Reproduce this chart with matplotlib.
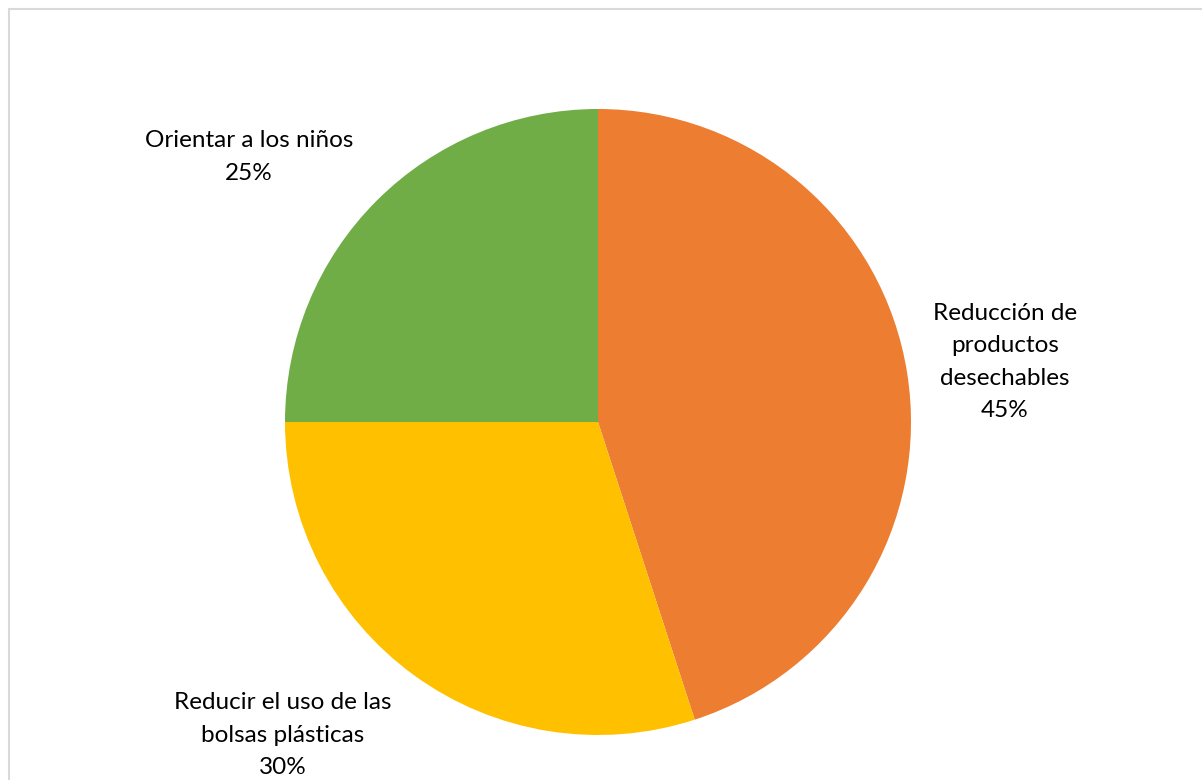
import matplotlib
matplotlib.use("Agg")
import matplotlib.pyplot as plt
from matplotlib.patches import Rectangle

categories = ["Reducción de\nproductos\ndesechables",
              "Reducir el uso de las\nbolsas plásticas",
              "Orientar a los niños"]
values = [45, 30, 25]
colors = ["#ED7D31", "#FFC000", "#70AD47"]

plt.rcParams["font.family"] = ["Lato", "DejaVu Sans"]

W, H = 1202, 780
fig = plt.figure(figsize=(W / 100, H / 100), dpi=100)

# chart area frame (runs off the right and bottom edge)
fig.patches.append(Rectangle((9 / W, -0.05), 1.1, 1 - 9 / H + 0.05,
                             transform=fig.transFigure, fill=False,
                             edgecolor="#d9d9d9", linewidth=1.5))

cx, cy, r = 598, 422, 313
ax = fig.add_axes([(cx - r) / W, (H - cy - r) / H, 2 * r / W, 2 * r / H])
ax.pie(values, colors=colors, startangle=90, counterclock=False,
       wedgeprops=dict(linewidth=0))
ax.set_xlim(-1, 1)
ax.set_ylim(-1, 1)
ax.set_aspect("equal")
ax.axis("off")

# label positions (pixel centres)
label_pos = [(1005, 362), (283, 735), (249, 157)]
for cat, v, (px, py) in zip(categories, values, label_pos):
    fig.text(px / W, 1 - py / H, f"{cat}\n{v}%", ha="center", va="center",
             fontsize=17.5, linespacing=1.68, color="#000000")

fig.savefig("out.png", dpi=100)
